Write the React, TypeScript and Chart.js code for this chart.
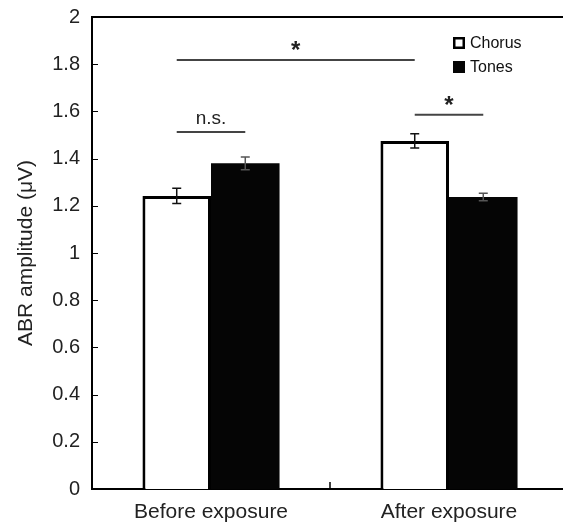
import React, { useEffect, useRef } from "react";
import { Chart, registerables } from "chart.js";

Chart.register(...registerables);

const categories = ["Before exposure", "After exposure"];
const seriesNames = ["Chorus", "Tones"];
const chorusValues = [1.242, 1.475];
const tonesValues = [1.38, 1.237];
const chorusErrors = [0.032, 0.03];
const tonesErrors = [0.027, 0.016];
const yMin = 0;
const yMax = 2;
const yStep = 0.2;
// significance brackets: [dataset, index] from -> to, level, label
const sigLabels = ["*", "n.s.", "*"];
const sigLevels = [1.818, 1.513, 1.586];
const sigFrom = [[0, 0], [0, 0], [0, 1]];
const sigTo = [[0, 1], [1, 0], [1, 1]];

const FONT = "'Liberation Sans', Arial, sans-serif";

const overlayPlugin = {
  id: "overlay",
  afterDatasetsDraw(chart: any) {
    const { ctx, chartArea, scales } = chart;
    const y = scales.y;
    const x = scales.x;
    ctx.save();
    // top border
    ctx.strokeStyle = "#000";
    ctx.lineWidth = 2;
    ctx.beginPath();
    ctx.moveTo(chartArea.left - 1, chartArea.top);
    ctx.lineTo(chartArea.right + 2, chartArea.top);
    ctx.stroke();
    // inward y ticks
    ctx.lineWidth = 1;
    for (let v = yMin + yStep; v < yMax - 1e-6; v += yStep) {
      const py = Math.round(y.getPixelForValue(v)) + 0.5;
      ctx.beginPath();
      ctx.moveTo(chartArea.left, py);
      ctx.lineTo(chartArea.left + 6, py);
      ctx.stroke();
    }
    // inward x tick between categories
    ctx.lineWidth = 1.5;
    const mid = (x.getPixelForValue(0) + x.getPixelForValue(1)) / 2;
    ctx.beginPath();
    ctx.moveTo(mid, chartArea.bottom);
    ctx.lineTo(mid, chartArea.bottom - 7);
    ctx.stroke();

    // error bars
    const errs = [chorusErrors, tonesErrors];
    const vals = [chorusValues, tonesValues];
    [0, 1].forEach((di) => {
      const meta = chart.getDatasetMeta(di);
      meta.data.forEach((bar: any, i: number) => {
        const cx = bar.x;
        const top = y.getPixelForValue(vals[di][i] + errs[di][i]);
        const bot = y.getPixelForValue(vals[di][i] - errs[di][i]);
        ctx.strokeStyle = di === 0 ? "#111" : "#555";
        ctx.lineWidth = 1.5;
        ctx.beginPath();
        ctx.moveTo(cx, top);
        ctx.lineTo(cx, bot);
        ctx.moveTo(cx - 4.5, top);
        ctx.lineTo(cx + 4.5, top);
        ctx.moveTo(cx - 4.5, bot);
        ctx.lineTo(cx + 4.5, bot);
        ctx.stroke();
      });
    });

    // significance brackets
    sigLabels.forEach((lab, k) => {
      const a = chart.getDatasetMeta(sigFrom[k][0]).data[sigFrom[k][1]];
      const b = chart.getDatasetMeta(sigTo[k][0]).data[sigTo[k][1]];
      const py = y.getPixelForValue(sigLevels[k]);
      ctx.strokeStyle = "#444";
      ctx.lineWidth = 2;
      ctx.beginPath();
      ctx.moveTo(a.x, py);
      ctx.lineTo(b.x, py);
      ctx.stroke();
      ctx.fillStyle = "#222";
      ctx.textAlign = "center";
      ctx.textBaseline = "alphabetic";
      if (lab === "*") {
        ctx.font = `bold 24px ${FONT}`;
        ctx.fillText(lab, (a.x + b.x) / 2, py - 2);
      } else {
        ctx.font = `19px ${FONT}`;
        ctx.fillText(lab, (a.x + b.x) / 2, py - 8);
      }
    });

    // legend
    const lx = 453;
    const ly = [37, 61];
    ctx.textAlign = "left";
    ctx.textBaseline = "middle";
    ctx.font = `16px ${FONT}`;
    seriesNames.forEach((name, k) => {
      if (k === 0) {
        ctx.fillStyle = "#fff";
        ctx.fillRect(lx, ly[k], 12, 12);
        ctx.strokeStyle = "#000";
        ctx.lineWidth = 2.5;
        ctx.strokeRect(lx + 1.25, ly[k] + 1.25, 9.5, 9.5);
      } else {
        ctx.fillStyle = "#050505";
        ctx.fillRect(lx, ly[k], 12, 12);
      }
      ctx.fillStyle = "#111";
      ctx.fillText(name, lx + 17, ly[k] + 7);
    });
    ctx.restore();
  },
};

export default function App() {
  const ref = useRef<HTMLCanvasElement>(null);
  useEffect(() => {
    if (!ref.current) return;
    const chart = new Chart(ref.current, {
      type: "bar",
      data: {
        labels: categories,
        datasets: [
          {
            label: seriesNames[0],
            data: chorusValues,
            backgroundColor: "#ffffff",
            borderColor: "#000000",
            borderWidth: 3,
            borderSkipped: "bottom",
            categoryPercentage: 0.576,
            barPercentage: 1,
          },
          {
            label: seriesNames[1],
            data: tonesValues,
            backgroundColor: "#050505",
            borderColor: "#050505",
            borderWidth: 0,
            categoryPercentage: 0.576,
            barPercentage: 1,
          },
        ],
      },
      options: {
        responsive: false,
        animation: false,
        layout: { padding: { top: 17, right: 4, left: 0, bottom: 0 } },
        plugins: {
          legend: { display: false },
          tooltip: { enabled: false },
        },
        scales: {
          x: {
            grid: { display: false, drawTicks: false },
            border: { display: true, color: "#000", width: 2 },
            ticks: {
              color: "#222",
              padding: 11,
              font: { family: FONT, size: 21 },
              maxRotation: 0,
            },
            afterFit: (s: any) => {
              s.height = 35;
              s.paddingLeft = 0;
              s.paddingRight = 0;
            },
          },
          y: {
            min: yMin,
            max: yMax,
            grid: { display: false, drawTicks: false },
            border: { display: true, color: "#000", width: 2 },
            ticks: {
              stepSize: yStep,
              color: "#222",
              padding: 12,
              font: { family: FONT, size: 20 },
              callback: (v: any) => String(Number(Number(v).toFixed(1))),
            },
            title: {
              display: true,
              text: "ABR amplitude (μV)",
              color: "#222",
              font: { family: FONT, size: 21 },
              padding: { top: 14, bottom: 4 },
            },
            afterFit: (s: any) => {
              s.width = 92;
              s.paddingTop = 0;
              s.paddingBottom = 0;
            },
          },
        },
      },
      plugins: [overlayPlugin],
    });
    return () => chart.destroy();
  }, []);
  return (
    <div
      style={{
        position: "absolute",
        left: 0,
        top: 0,
        width: 563,
        height: 524,
        overflow: "hidden",
        background: "#fff",
      }}
    >
      <canvas ref={ref} width={572} height={524} style={{ display: "block" }} />
    </div>
  );
}
